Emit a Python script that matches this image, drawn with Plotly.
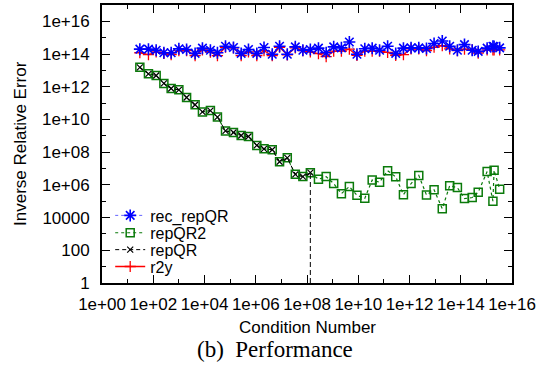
import plotly.graph_objects as go

# Condition numbers (x)
cond = [3.0e1, 6.5e1, 1.3e2, 2.6e2, 5.0e2, 1.0e3, 2.0e3, 4.3e3, 8.3e3, 1.7e4,
        3.2e4, 6.6e4, 1.35e5, 2.7e5, 5.2e5, 1.1e6, 2.1e6, 4.4e6, 8.5e6, 1.7e7,
        3.5e7, 6.9e7, 1.35e8, 2.8e8, 5.6e8, 1.1e9, 2.2e9, 4.5e9, 8.9e9, 1.8e10,
        3.5e10, 6.8e10, 1.4e11, 2.9e11, 5.8e11, 1.15e12, 2.3e12, 4.6e12, 9.1e12, 1.9e13,
        3.7e13, 7.4e13, 1.4e14, 2.8e14, 4.8e14, 1.07e15, 1.8e15, 2.0e15, 3.3e15]

rec_repQR = [2.0e14, 2.0e14, 1.7e14, 1.2e14, 1.2e14, 2.1e14, 1.9e14, 1.1e14, 2.3e14, 1.7e14,
             1.2e14, 3.0e14, 2.5e14, 1.1e14, 1.9e14, 1.1e14, 2.5e14, 9.8e13, 3.0e14, 9.8e13,
             2.75e14, 1.7e14, 1.9e14, 2.3e14, 1.2e14, 2.75e14, 2.4e14, 5.5e14, 9.8e13, 2.1e14,
             2.3e14, 1.7e14, 3.0e14, 1.1e14, 2.3e14, 2.4e14, 2.4e14, 2.2e14, 4.4e14, 6.3e14,
             3.0e14, 1.7e14, 3.8e14, 1.7e14, 1.45e14, 2.3e14, 3.0e14, 2.9e14, 2.4e14]

repQR2 = [1.55e13, 6.2e12, 4.9e12, 1.6e12, 7.8e11, 6.5e11, 2.2e11, 7.9e10, 2.9e10, 3.5e10,
          1.4e10, 2.0e9, 1.6e9, 1.05e9, 9.1e8, 2.6e8, 1.6e8, 1.4e8, 2.6e7, 4.5e7,
          4.4e6, 3.2e6, 5.6e6, 2.2e6, 3.2e6, 1.2e6, 2.9e5, 7.9e5, 2.3e5, 1.5e5,
          2.0e6, 1.45e6, 7.4e6, 3.1e6, 2.5e5, 1.2e6, 3.8e6, 2.4e5, 5.0e5, 3.5e4,
          8.9e5, 6.8e5, 1.45e5, 1.7e5, 3.6e5, 6.5e6, 1.0e5, 7.8e6, 5.5e5]

repQR = [1.55e13, 6.2e12, 4.9e12, 1.6e12, 7.8e11, 6.5e11, 2.2e11, 7.9e10, 2.9e10, 3.5e10,
         1.4e10, 2.0e9, 1.6e9, 1.05e9, 9.1e8, 2.6e8, 1.6e8, 1.4e8, 2.6e7, 4.5e7,
         4.4e6, 3.2e6, 5.6e6]

r2y = [1.2e14, 9.3e13, 1.35e14, 1.1e14, 9.3e13, 1.6e14, 1.6e14, 8.0e13, 1.8e14, 1.3e14,
       8.0e13, 2.6e14, 2.4e14, 8.0e13, 1.35e14, 8.0e13, 1.6e14, 8.0e13, 2.6e14, 8.8e13,
       2.4e14, 1.6e14, 1.35e14, 1.05e14, 6.9e13, 1.5e14, 1.5e14, 2.0e14, 8.2e13, 1.5e14,
       1.5e14, 1.5e14, 1.25e14, 8.2e13, 9.3e13, 2.1e14, 2.1e14, 1.6e14, 2.6e14, 3.3e14,
       2.1e14, 1.6e14, 2.0e14, 1.8e14, 1.15e14, 1.8e14, 1.8e14, 1.8e14, 1.8e14]

x_tickvals = [1e0, 1e2, 1e4, 1e6, 1e8, 1e10, 1e12, 1e14, 1e16]
x_ticktext = ["1e+00", "1e+02", "1e+04", "1e+06", "1e+08", "1e+10", "1e+12", "1e+14", "1e+16"]
x_minor = [1e1, 1e3, 1e5, 1e7, 1e9, 1e11, 1e13, 1e15]
y_tickvals = [1e0, 1e2, 1e4, 1e6, 1e8, 1e10, 1e12, 1e14, 1e16]
y_ticktext = ["1", "100", "10000", "1e+06", "1e+08", "1e+10", "1e+12", "1e+14", "1e+16"]
y_minor = [1e1, 1e3, 1e5, 1e7, 1e9, 1e11, 1e13, 1e15]
y_floor = 1.0

FONT = "Liberation Sans"
GREEN = "#0a7a0a"

fig = go.Figure()

# r2y drawn first so the blue asterisks sit on top
fig.add_trace(go.Scatter(
    x=cond, y=r2y, name="r2y", mode="lines+markers", legend="legend4",
    line=dict(color="#ff0000", width=1.3),
    marker=dict(symbol="cross-thin-open", size=8, color="#ff0000",
                line=dict(color="#ff0000", width=1.3))))

fig.add_trace(go.Scatter(
    x=cond, y=rec_repQR, name="rec_repQR", mode="lines+markers", legend="legend",
    line=dict(color="rgba(60,60,255,0.8)", width=1, dash="dot"),
    marker=dict(symbol="asterisk-open", size=10, color="#0000ff",
                line=dict(color="#0000ff", width=1.6))))

fig.add_trace(go.Scatter(
    x=cond, y=repQR2, name="repQR2", mode="lines+markers", legend="legend2",
    line=dict(color=GREEN, width=1.2, dash="dot"),
    marker=dict(symbol="square-open", size=8, color=GREEN,
                line=dict(color=GREEN, width=1.5))))

fig.add_trace(go.Scatter(
    x=cond[:len(repQR)], y=repQR, name="repQR", mode="lines+markers", legend="legend3",
    line=dict(color="black", width=1, dash="4px,3px"),
    marker=dict(symbol="x-thin-open", size=6, color="black",
                line=dict(color="black", width=1.2))))

# vertical dashed marker at the last repQR point
fig.add_trace(go.Scatter(
    x=[cond[len(repQR) - 1]] * 2, y=[y_floor, repQR[-1]], mode="lines",
    line=dict(color="black", width=1, dash="5px,3px"), showlegend=False,
    hoverinfo="skip"))

axis_common = dict(
    type="log", showgrid=False, zeroline=False, showline=True,
    linecolor="black", linewidth=1.8, mirror="ticks",
    ticks="inside", ticklen=8, tickwidth=1, tickcolor="black",
    tickfont=dict(family=FONT, size=17, color="black"),
)

fig.update_xaxes(**axis_common, range=[0, 16], tickvals=x_tickvals, ticktext=x_ticktext,
                 ticklabelstandoff=5,
                 minor=dict(ticks="inside", ticklen=4, tickwidth=1, tickcolor="black",
                            tickvals=x_minor, showgrid=False))
fig.update_yaxes(**axis_common, range=[0, 17], tickvals=y_tickvals, ticktext=y_ticktext,
                 ticklabelstandoff=7,
                 minor=dict(ticks="inside", ticklen=4, tickwidth=1, tickcolor="black",
                            tickvals=y_minor, showgrid=False))


def legend_at(ypx):
    return dict(x=0.02, y=(283 - ypx) / 280, xanchor="left", yanchor="middle",
                bgcolor="rgba(0,0,0,0)", font=dict(family=FONT, size=16),
                itemwidth=30, tracegroupgap=0)


fig.update_layout(
    width=549, height=367,
    margin=dict(l=102, r=37, t=3, b=84),
    paper_bgcolor="white", plot_bgcolor="white",
    font=dict(family=FONT, size=17, color="black"),
    legend=legend_at(215),
    legend2=legend_at(232.5),
    legend3=legend_at(249.5),
    legend4=legend_at(266.5),
    annotations=[
        dict(text="Condition Number", xref="paper", yref="paper", x=0.5, y=-0.16,
             xanchor="center", yanchor="middle", showarrow=False,
             font=dict(family=FONT, size=17)),
        dict(text="(b)  Performance", xref="paper", yref="paper",
             x=(274.5 - 102) / 410, y=-0.24, xanchor="center", yanchor="middle",
             showarrow=False, font=dict(family="Liberation Serif", size=23)),
        dict(text="Inverse Relative Error", xref="paper", yref="paper",
             x=(20 - 102) / 410, y=0.5, xanchor="center", yanchor="middle",
             textangle=-90, showarrow=False, font=dict(family=FONT, size=17)),
    ],
)

fig.write_html("out.html")
